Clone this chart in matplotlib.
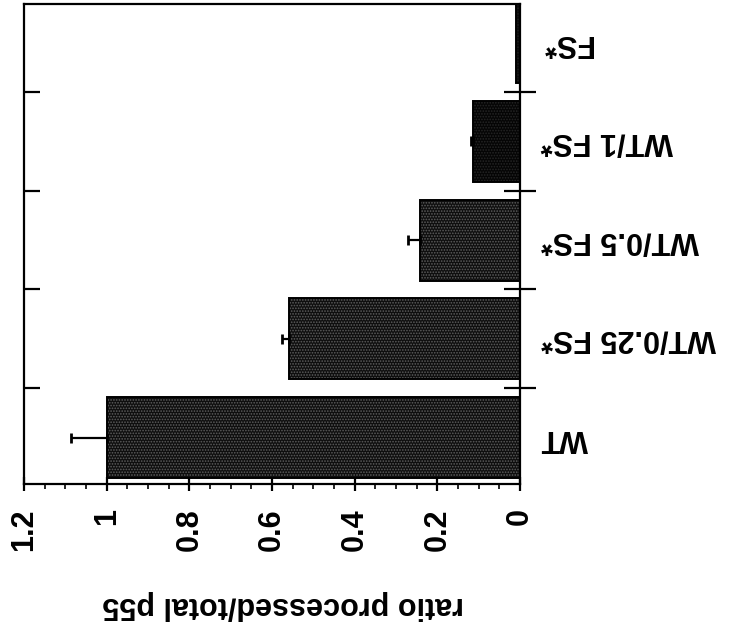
import numpy as np
import matplotlib
matplotlib.use("Agg")
import matplotlib.pyplot as plt
from matplotlib.ticker import MultipleLocator, FixedLocator, NullFormatter

# Processing ratio of p55 for wild type and mixes with FS*
categories = ["WT", "WT/0.25 FS*", "WT/0.5 FS*", "WT/1 FS*", "FS*"]
ratio = [1.00, 0.56, 0.242, 0.113, 0.010]
ratio_err = [0.087, 0.015, 0.028, 0.006, 0.0]
x_ticks = [0, 0.2, 0.4, 0.6, 0.8, 1, 1.2]
x_tick_labels = ["0", "0.2", "0.4", "0.6", "0.8", "1", "1.2"]
axis_label = "ratio processed/total p55"

plt.rcParams["font.family"] = ["Liberation Sans", "DejaVu Sans"]
plt.rcParams["font.weight"] = "bold"
plt.rcParams["hatch.linewidth"] = 0.8

W, H = 737, 633
fig = plt.figure(figsize=(W / 100, H / 100), dpi=100)
ax_l, ax_r, ax_t, ax_b = 24, 520, 4, 484
ax = fig.add_axes([ax_l / W, (H - ax_b) / H, (ax_r - ax_l) / W, (ax_b - ax_t) / H])

pos = np.arange(len(categories))
face = ["#0e0e0e", "#0e0e0e", "#0e0e0e", "#050505", "#0a0a0a"]
dots = ["#5e5e5e", "#5e5e5e", "#5e5e5e", "#262626", "#222222"]

# stippled fill
ax.barh(pos, ratio, height=0.82, color=face, edgecolor=dots, hatch="......",
        linewidth=0, zorder=2)
# solid outline
ax.barh(pos, ratio, height=0.82, facecolor="none", edgecolor="black",
        linewidth=1.4, zorder=2.5)

# one-sided error bars (towards larger values)
ax.errorbar(ratio[:4], pos[:4], xerr=[np.zeros(4), ratio_err[:4]], fmt="none",
            ecolor="black", elinewidth=1.6, capsize=3.6, capthick=2.0, zorder=3)

ax.set_xlim(1.2, 0)
ax.set_ylim(-0.47, 4.39)

for s in ax.spines.values():
    s.set_linewidth(1.6)

ax.xaxis.set_major_locator(FixedLocator(x_ticks))
ax.set_xticklabels(x_tick_labels, rotation=90, fontsize=22, fontweight="bold")
ax.xaxis.set_minor_locator(MultipleLocator(0.05))
ax.tick_params(axis="x", which="major", direction="inout", length=10, width=1.6,
               pad=12.5)
ax.tick_params(axis="x", which="minor", direction="out", length=3.5, width=1.2)

# category boundary marks on the left spine
ax.yaxis.set_major_locator(FixedLocator([]))
ax.yaxis.set_minor_locator(FixedLocator(pos[:-1] + 0.5))
ax.yaxis.set_minor_formatter(NullFormatter())
ax.tick_params(axis="y", which="minor", direction="in", length=11.5, width=1.6,
               left=True, right=False)

# category labels and boundary marks on the right spine
ax2 = ax.twinx()
ax2.set_ylim(ax.get_ylim())
for s in ax2.spines.values():
    s.set_visible(False)
ax2.yaxis.set_major_locator(FixedLocator(pos))
ax2.set_yticklabels(categories, fontsize=22, fontweight="bold")
ax2.yaxis.set_minor_locator(FixedLocator(pos[:-1] + 0.5))
ax2.yaxis.set_minor_formatter(NullFormatter())
ax2.tick_params(axis="y", which="major", length=0, pad=15)
ax2.tick_params(axis="y", which="minor", direction="inout", length=23, width=1.6)
for lbl in ax2.get_yticklabels():
    lbl.set_rotation(180)
    lbl.set_verticalalignment("center")
    lbl.set_horizontalalignment("left")

fig.text(283 / W, 1 - 605 / H, axis_label, rotation=180, ha="center",
         va="center", fontsize=22, fontweight="bold")

fig.savefig("out.png", dpi=100)
